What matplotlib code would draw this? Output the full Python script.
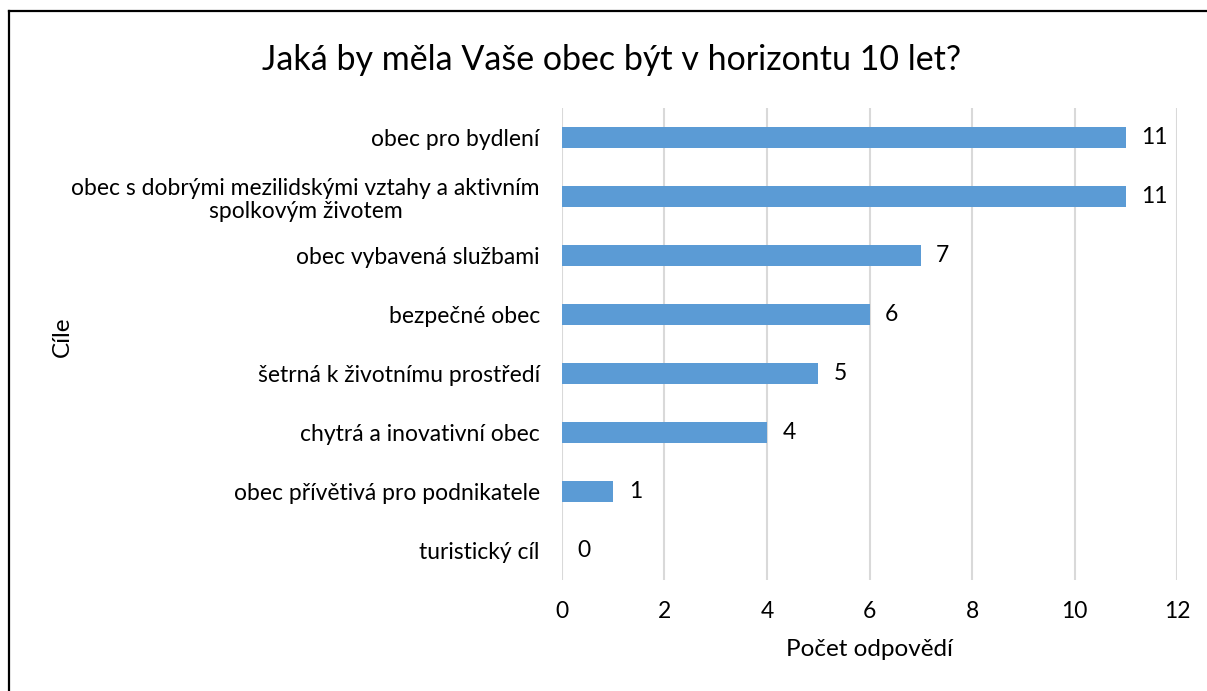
import matplotlib.pyplot as plt
from matplotlib.lines import Line2D

plt.rcParams['font.family'] = ['Lato', 'DejaVu Sans']

categories = [
    'obec pro bydlení',
    'obec s dobrými mezilidskými vztahy a aktivním\nspolkovým životem',
    'obec vybavená službami',
    'bezpečné obec',
    'šetrná k životnímu prostředí',
    'chytrá a inovativní obec',
    'obec přívětivá pro podnikatele',
    'turistický cíl',
]
counts = [11, 11, 7, 6, 5, 4, 1, 0]
x_ticks = [0, 2, 4, 6, 8, 10, 12]

fs = 16.5

fig = plt.figure(figsize=(12.07, 6.91), dpi=100)
ax = fig.add_axes([0.4656, 0.1606, 0.5096, 0.6831])

pos = list(range(len(categories)))
ax.barh(pos, counts, height=0.36, color='#5B9BD5', zorder=3)
for p, v in zip(pos, counts):
    ax.text(v + 0.3, p, str(v), va='center', ha='left', fontsize=fs, color='#000000')

ax.set_ylim(len(categories) - 0.5, -0.5)
ax.set_xlim(0, 12)
ax.set_xticks(x_ticks)
ax.set_xticklabels([str(t) for t in x_ticks], fontsize=fs)
ax.set_yticks(pos)
ax.set_yticklabels(categories, fontsize=fs, linespacing=1.15)
for lab in ax.get_yticklabels():
    lab.set_multialignment('center')

ax.grid(axis='x', color='#D9D9D9', linewidth=1.5, zorder=0)
for s in ax.spines.values():
    s.set_visible(False)
ax.tick_params(axis='both', length=0)
ax.tick_params(axis='y', pad=16)
ax.tick_params(axis='x', pad=15)

ax.set_xlabel('Počet odpovědí', fontsize=17.5, labelpad=12)
fig.text(0.052, 0.512, 'Cíle', rotation=90, fontsize=17.5, ha='center', va='center')
fig.text(0.507, 0.913, 'Jaká by měla Vaše obec být v horizontu 10 let?', fontsize=24.5,
         ha='center', va='center')

# frame around the chart (only top and left edges are in view)
fig.add_artist(Line2D([8.5 / 1207, 1.0], [1 - 10.5 / 691] * 2, color='black', linewidth=1.6,
                      transform=fig.transFigure))
fig.add_artist(Line2D([8.5 / 1207] * 2, [0.0, 1 - 10.5 / 691], color='black', linewidth=1.6,
                      transform=fig.transFigure))

fig.savefig('out.png', dpi=100)
